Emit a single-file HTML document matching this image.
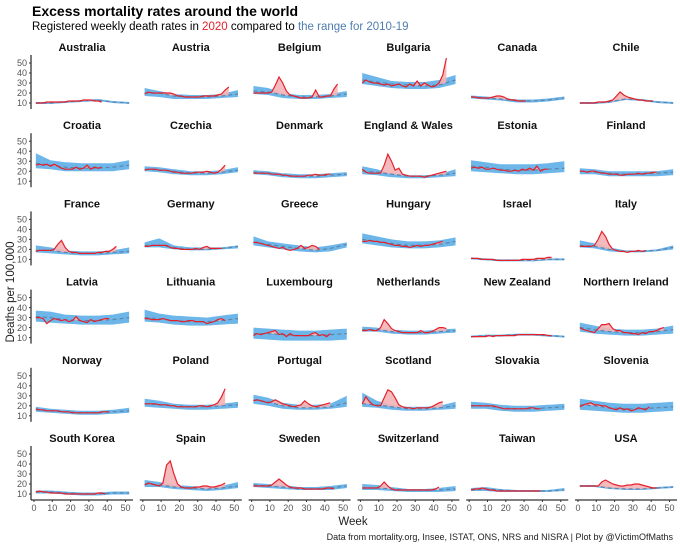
<!DOCTYPE html>
<html><head><meta charset="utf-8">
<style>
html,body{margin:0;padding:0;background:#fff;}
svg{display:block;font-family:"Liberation Sans",sans-serif;}
</style></head>
<body>
<svg id="chart" width="680" height="544" viewBox="0 0 680 544" xmlns="http://www.w3.org/2000/svg">
<text x="32" y="16" font-size="14" font-weight="bold" fill="#000">Excess mortality rates around the world</text>
<text x="32" y="30" font-size="11.5" fill="#000">Registered weekly death rates in <tspan fill="#e4202a">2020</tspan> compared to <tspan fill="#4f7db0">the range for 2010-19</tspan></text>
<text transform="translate(14,292) rotate(-90)" text-anchor="middle" font-size="11.5" fill="#222">Deaths per 100,000</text>
<text x="353" y="525" text-anchor="middle" font-size="11.5" fill="#222">Week</text>
<text x="673" y="540" text-anchor="end" font-size="9" fill="#222">Data from mortality.org, Insee, ISTAT, ONS, NRS and NISRA | Plot by @VictimOfMaths</text>
<g id="panels"></g>
</svg>
<script>
const knotWeeks = [1,9,17,26,35,43,52];
const yTicks = [10,20,30,40,50];
const xTicks = [0,10,20,30,40,50];
const countries = ["Australia","Austria","Belgium","Bulgaria","Canada","Chile","Croatia","Czechia","Denmark","England & Wales","Estonia","Finland","France","Germany","Greece","Hungary","Israel","Italy","Latvia","Lithuania","Luxembourg","Netherlands","New Zealand","Northern Ireland","Norway","Poland","Portugal","Scotland","Slovakia","Slovenia","South Korea","Spain","Sweden","Switzerland","Taiwan","USA"];
const meanVals = [
[10,10,11,12,13,11,10],[20,20,17,16,16,17,19],[22,21,18,16,16,17,19],[33,31,29,28,27,28,33],[16,15,14,12,12,13,15],[10,10,11,14,13,11,10],
[28,26,24,23,23,24,26],[22,21,20,18,18,19,21],[19,18,16,15,15,16,17],[20,19,17,15,15,16,18],[25,24,22,21,21,22,23],[20,19,18,17,17,18,19],
[19,19,17,16,16,17,18],[24,24,22,20,20,21,23],[27,25,23,21,19,21,25],[30,28,26,24,24,25,28],[11,10,9,9,9,10,10],[24,23,20,18,18,19,22],
[31,30,28,27,27,28,30],[30,29,27,26,26,27,29],[14,14,13,12,12,13,14],[18,18,16,15,15,16,17],[11,12,12,13,13,12,11],[20,18,16,15,15,16,18],
[16,15,14,13,13,14,15],[22,21,20,19,19,20,21],[26,24,20,18,18,19,23],[22,21,19,17,17,18,20],[20,20,18,17,17,18,19],[21,20,18,17,17,18,19],
[12,12,11,10,10,11,11],[20,19,17,16,15,16,18],[19,18,17,15,15,16,18],[16,16,15,14,14,14,15],[14,15,14,13,13,13,14],[18,18,16,15,15,16,17]];
const lowVals = [
[9,9,10,11,12,10,9],[17,16,14,14,14,15,16],[19,18,15,14,14,15,16],[29,27,25,24,24,25,29],[14.5,13.5,12.5,10.5,10.5,11.5,13.5],[9,9,10,13,12,10,9],
[23,22,20,20,20,20,22],[20,19,17,16,16,17,19],[17,16,14,13,13,14,15],[17,16,14,13,13,14,15],[20,19,18,17,17,18,19],[17,17,15,15,15,15,16],
[17,16,15,14,14,15,16],[22,22,20,19,19,20,21],[24,22,20,18,17,18,22],[26,24,22,21,21,22,24],[10,9,8,8,8,9,9],[22,21,18,17,17,18,20],
[26,25,24,23,23,23,25],[26,25,23,22,22,23,24],[9,8,7,7,7,7,8],[16,16,14,13,13,14,15],[10,11,11,12,12,11,10],[16,14,13,12,12,13,14],
[14,13,12,11,11,12,13],[19,18,17,16,16,17,18],[22,20,17,16,16,17,19],[19,18,16,15,15,16,17],[17,17,15,14,14,15,16],[16,15,14,13,13,14,15],
[10.5,10.5,9.5,8.5,8.5,9.5,9.5],[17,17,15,14,13,14,16],[17,16,15,14,14,14,16],[14,14,13,12,12,12,13],[13,13,12,12,12,12,13],[17,17,15,14,14,15,16]];
const highVals = [
[11,11,12,13,14,12,11],[25,22,19,18,18,19,23],[27,25,20,18,18,19,22],[40,36,32,31,31,33,38],[17.5,16.5,15.5,13.5,13.5,14.5,16.5],[11,11,12,15,14,12,11],
[38,31,29,28,28,28,31],[25,24,22,20,20,21,24],[21,20,18,17,17,18,19],[25,22,18,16,16,17,22],[31,29,27,27,27,28,30],[23,22,20,20,20,20,22],
[24,22,19,18,18,19,22],[27,31,24,22,22,22,24],[33,28,26,24,22,24,27],[36,33,30,28,28,29,32],[12,11,10,10,10,11,11],[29,26,22,19,19,20,24],
[37,36,33,32,32,33,36],[38,34,32,31,30,32,34],[20,19,18,17,17,18,19],[21,20,18,17,17,18,19],[12,13,13,14,14,13,12],[25,22,19,18,18,19,22],
[19,17,16,15,15,16,18],[27,25,22,21,21,22,24],[31,28,23,21,21,22,30],[33,25,21,19,19,20,24],[24,23,21,20,20,21,22],[27,25,23,22,22,23,24],
[13.5,13.5,12.5,11.5,11.5,12.5,12.5],[24,22,19,18,17,18,22],[21,20,19,17,17,18,20],[20,19,17,15,15,16,18],[16,17,15,14,14,14,16],[19,19,17,16,16,17,18]];
// 2020 values at weeks 1,3,5,...
const vals2020 = [
[10,10,10,11,11,11,11,11,11,12,12,12,12,13,13,13,12,12,11],
[19,21,20,20,20,20,20,20,19,17,17,16,16,16,16,16,17,17,17,17,18,19,23,26],
[20,20,20,20,20,21,28,36,30,22,18,17,16,15,15,15,16,23,16,16,17,17,24,29],
[30,33,31,30,30,29,28,29,27,28,29,27,26,29,27,32,27,30,28,26,27,30,38,55],
[16,16,15,15,15,15,16,17,17,16,14,13,13,12,12,12],
[10,10,10,10,10,11,11,11,12,13,17,21,18,16,15,14,13,13,12,12,12],
[26,27,26,27,25,27,25,23,22,22,22,24,22,23,26,22,24,23,24],
[21,22,22,22,21,21,21,20,19,19,18,18,18,18,19,19,19,20,19,18,19,22,26],
[18,18,18,18,18,17,17,17,16,16,15,15,15,15,15,16,16,17,16,16,17,17],
[22,19,18,18,18,18,26,37,30,21,23,17,16,15,15,15,15,14,15,16,17,18,19,20],
[23,24,23,24,22,22,23,22,21,21,20,20,21,20,22,21,23,21,25,20,22,22],
[20,20,19,20,20,19,18,18,17,17,17,16,16,17,17,17,18,17,18,18,19,19],
[18,19,19,19,19,20,25,29,22,18,17,17,16,16,16,16,16,17,17,18,18,20,23],
[23,23,24,24,24,24,24,22,21,21,20,20,20,20,21,20,22,23,21,21,21,21],
[27,27,26,25,24,23,22,21,22,20,19,20,21,24,21,22,24,23,20],
[28,28,29,28,28,27,27,26,25,24,24,23,23,22,23,24,23,24,24,25,26,27,28],
[11,11,11,10,10,10,10,9,9,9,9,9,9,9,10,10,10,10,11,11,11,12,12],
[23,23,23,23,24,30,38,33,25,20,19,18,18,17,18,18,19,18,19],
[30,30,29,24,27,29,28,27,28,26,27,31,27,26,25,28,26,27,28,29,29],
[29,29,28,28,28,29,28,27,27,27,26,26,27,27,26,26,26,24,25,26,28,29,27],
[12,14,13,14,15,16,17,13,14,11,14,12,12,12,12,12,14,15,12,13,11,14],
[17,17,18,17,17,20,28,24,19,17,16,15,15,15,15,15,17,15,15,16,18,20,20,19],
[11,11,11,11,11,12,11,12,12,12,12,12,12,13,13,13,13,13,13,13,13,12,12],
[20,18,17,16,15,19,23,23,24,19,17,17,15,15,14,14,13,15,14,16,16,17,19,20],
[17,16,16,15,15,15,15,14,14,14,13,13,13,13,13,13,13,13,14,14,14],
[22,22,22,22,21,21,21,20,20,19,19,19,19,19,19,20,20,19,20,21,23,29,37],
[25,26,25,24,23,24,26,24,22,21,20,19,20,21,25,22,20,19,20,21,22,23],
[22,29,24,21,20,20,28,36,34,28,21,19,18,18,17,18,18,18,18,19,21,23,24],
[20,20,20,20,20,20,20,19,18,17,17,17,17,17,17,17,18,18,17,17],
[19,21,22,23,21,21,20,20,18,17,16,18,16,17,15,16,18,17,16,19],
[12,13,12,12,11,11,11,11,10,10,10,10,10,10,10,10,10,11,11,10],
[19,21,20,19,18,21,39,43,30,20,17,16,16,16,17,17,18,18,17,17,18,19,21],
[18,18,18,18,18,19,22,25,22,19,17,16,16,16,15,15,15,15,15,15,16,16,15],
[16,16,16,16,16,18,22,18,15,14,14,14,14,14,14,14,14,14,14,14,15,17],
[14,15,15,16,15,14,14,13,13,13,13,13,13,13,13,13,13,13,13,13],
[18,18,18,18,18,18,22,24,22,20,19,18,18,19,19,20,20,19,18,17,16,16]];

const NS = "http://www.w3.org/2000/svg";
const root = document.getElementById('panels');
function mk(tag, attrs, parent){const e=document.createElementNS(NS,tag);for(const k in attrs)e.setAttribute(k,attrs[k]);(parent||root).appendChild(e);return e;}
function interp(ws, vs, w){
  if(w<=ws[0])return vs[0];
  for(let i=1;i<ws.length;i++){if(w<=ws[i]){const t=(w-ws[i-1])/(ws[i]-ws[i-1]);return vs[i-1]+t*(vs[i]-vs[i-1]);}}
  return vs[vs.length-1];
}
countries.forEach((name, idx)=>{
  const r=Math.floor(idx/6), c=idx%6;
  const x0=31+108.8*c, base=113+78.2*r;
  const xs=w=>x0+3+w*1.83;
  const ys=v=>base-v;
  const g=mk('g',{});
  
  
  const t=mk('text',{x:x0+51,y:51+78.2*r,'text-anchor':'middle','font-size':'11','font-weight':'bold',fill:'#111'},g);
  t.textContent=name;
  
  
  // band
  let pts=[];
  for(let w=1;w<=52;w++)pts.push(xs(w)+','+ys(interp(knotWeeks,highVals[idx],w)));
  for(let w=52;w>=1;w--)pts.push(xs(w)+','+ys(interp(knotWeeks,lowVals[idx],w)));
  const band=mk('polygon',{points:pts.join(' '),fill:'#6db6ea'},g);
  
  
  // 2020
  const red=vals2020[idx];
  const rw=red.map((v,i)=>1+2*i);
  const lastW=rw[rw.length-1];
  let up=[],lo=[];
  for(let w=1;w<=lastW;w+=0.5){const rv=interp(rw,red,w),mv=interp(knotWeeks,meanVals[idx],w);up.push(xs(w)+','+ys(Math.max(rv,mv)));lo.unshift(xs(w)+','+ys(mv));}
  const ex=mk('polygon',{points:up.concat(lo).join(' '),fill:'#f4b3b6','fill-opacity':'0.9'},g);
  
  
  let mp=[];
  for(let i=0;i<knotWeeks.length;i++)mp.push(xs(knotWeeks[i])+','+ys(meanVals[idx][i]));
  const ml=mk('polyline',{points:mp.join(' '),fill:'none',stroke:'#5f84aa','stroke-width':'1.2','stroke-dasharray':'4,3'},g);
  
  
  const rl=mk('polyline',{points:red.map((v,i)=>xs(rw[i])+','+ys(v)).join(' '),fill:'none',stroke:'#e4202a','stroke-width':'1.2'},g);
  
  
  if(c===0){
    const ax=mk('line',{x1:x0,x2:x0,y1:ys(58),y2:ys(4),stroke:'#333','stroke-width':'1.3'},g);
    
    
    yTicks.forEach(v=>{
      mk('line',{x1:x0-2,x2:x0,y1:ys(v),y2:ys(v),stroke:'#333'},g);
      const tl=mk('text',{x:x0-4,y:ys(v)+3.2,'text-anchor':'end','font-size':'9',fill:'#555'},g);
      tl.textContent=v;
      
      
    });
  }
  if(r===5){
    const ax=mk('line',{x1:x0,x2:x0+102,y1:ys(4),y2:ys(4),stroke:'#333','stroke-width':'1.3'},g);
    
    
    xTicks.forEach(w=>{
      mk('line',{x1:xs(w),x2:xs(w),y1:ys(4),y2:ys(4)+2,stroke:'#333'},g);
      const tl=mk('text',{x:xs(w),y:ys(4)+11,'text-anchor':'middle','font-size':'9',fill:'#555'},g);
      tl.textContent=w;
      
      
    });
  }
});
</script>
</body></html>
